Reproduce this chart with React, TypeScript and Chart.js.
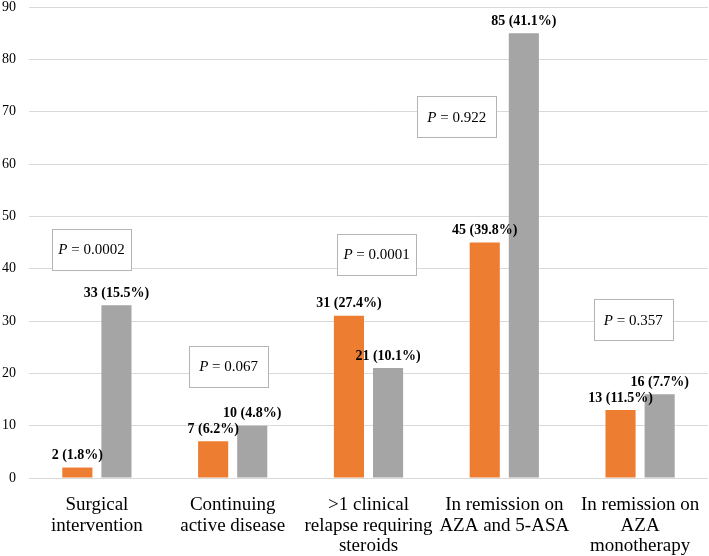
import React, { useEffect, useRef } from "react";
import { Chart, registerables } from "chart.js";

Chart.register(...registerables);

const categories: string[][] = [
  ["Surgical", "intervention"],
  ["Continuing", "active disease"],
  [">1 clinical", "relapse requiring", "steroids"],
  ["In remission on", "AZA and 5-ASA"],
  ["In remission on", "AZA", "monotherapy"],
];
const orangeValues = [2, 7, 31, 45, 13];
const orangePct = ["1.8", "6.2", "27.4", "39.8", "11.5"];
const grayValues = [33, 10, 21, 85, 16];
const grayPct = ["15.5", "4.8", "10.1", "41.1", "7.7"];
const yTicks = [0, 10, 20, 30, 40, 50, 60, 70, 80, 90];

const pTexts = ["0.0002", "0.067", "0.0001", "0.922", "0.357"];
const pAnchorCat = [-0.04, 0.97, 2.06, 2.65, 3.95];
const pAnchorVal = [43.7, 21.3, 42.7, 69.0, 30.2];

const FONT = "'Liberation Serif', 'Times New Roman', serif";

const labelPlugin = {
  id: "labelsAndBoxes",
  afterDatasetsDraw(chart: any) {
    const ctx = chart.ctx;
    ctx.save();
    const texts = [
      orangeValues.map((v, i) => `${v} (${orangePct[i]}%)`),
      grayValues.map((v, i) => `${v} (${grayPct[i]}%)`),
    ];
    ctx.font = `bold 14px ${FONT}`;
    ctx.fillStyle = "#000";
    ctx.textAlign = "center";
    ctx.textBaseline = "middle";
    chart.data.datasets.forEach((ds: any, di: number) => {
      const meta = chart.getDatasetMeta(di);
      meta.data.forEach((bar: any, i: number) => {
        ctx.fillText(texts[di][i], bar.x, bar.y - 12);
      });
    });
    const xs = chart.scales.x;
    const ys = chart.scales.y;
    const p0 = xs.getPixelForValue(0);
    const p1 = xs.getPixelForValue(1);
    const w = 79;
    const h = 41;
    pTexts.forEach((t, i) => {
      const cx = p0 + pAnchorCat[i] * (p1 - p0);
      const cy = ys.getPixelForValue(pAnchorVal[i]);
      ctx.fillStyle = "#fff";
      ctx.fillRect(cx - w / 2, cy - h / 2, w, h);
      ctx.strokeStyle = "#b4b4b4";
      ctx.lineWidth = 1;
      ctx.strokeRect(Math.round(cx - w / 2) + 0.5, Math.round(cy - h / 2) + 0.5, w, h);
      ctx.fillStyle = "#000";
      ctx.textBaseline = "middle";
      ctx.textAlign = "left";
      ctx.font = `italic 15px ${FONT}`;
      const pW = ctx.measureText("P").width;
      ctx.font = `15px ${FONT}`;
      const rest = ` = ${t}`;
      const rW = ctx.measureText(rest).width;
      const start = cx - (pW + rW) / 2;
      ctx.font = `italic 15px ${FONT}`;
      ctx.fillText("P", start, cy + 1);
      ctx.font = `15px ${FONT}`;
      ctx.fillText(rest, start + pW, cy + 1);
    });
    ctx.restore();
  },
};

export default function App() {
  const ref = useRef<HTMLCanvasElement>(null);
  useEffect(() => {
    if (!ref.current) return;
    const chart = new Chart(ref.current, {
      type: "bar",
      data: {
        labels: categories,
        datasets: [
          {
            label: "Group 1",
            data: orangeValues,
            backgroundColor: "#ED7D31",
            categoryPercentage: 0.576,
            barPercentage: 0.77,
          },
          {
            label: "Group 2",
            data: grayValues,
            backgroundColor: "#A5A5A5",
            categoryPercentage: 0.576,
            barPercentage: 0.77,
          },
        ],
      },
      options: {
        animation: false,
        responsive: true,
        maintainAspectRatio: false,
        layout: { padding: { top: 7, right: 1, left: 0, bottom: 0 } },
        plugins: {
          legend: { display: false },
          tooltip: { enabled: false },
          title: { display: false },
        },
        scales: {
          x: {
            grid: { display: false },
            border: { display: false },
            ticks: {
              color: "#000",
              font: { family: FONT, size: 19, lineHeight: 1.08 },
              maxRotation: 0,
              autoSkip: false,
              padding: 9,
            },
            afterFit: (s: any) => {
              s.height = 78;
              s.paddingLeft = 0;
              s.paddingRight = 0;
            },
          },
          y: {
            min: 0,
            max: 90,
            afterBuildTicks: (s: any) => {
              s.ticks = yTicks.map((v) => ({ value: v }));
            },
            grid: { color: "#d9d9d9", drawTicks: false, lineWidth: 1 },
            border: { display: false },
            ticks: {
              color: "#000",
              font: { family: FONT, size: 14 },
              padding: 13,
            },
            afterFit: (s: any) => {
              s.width = 29;
              s.paddingTop = 0;
              s.paddingBottom = 0;
            },
          },
        },
      },
      plugins: [labelPlugin],
    });
    return () => chart.destroy();
  }, []);
  return (
    <div style={{ position: "fixed", left: 0, top: 0, width: 709, height: 556, background: "#fff" }}>
      <canvas ref={ref} />
    </div>
  );
}
